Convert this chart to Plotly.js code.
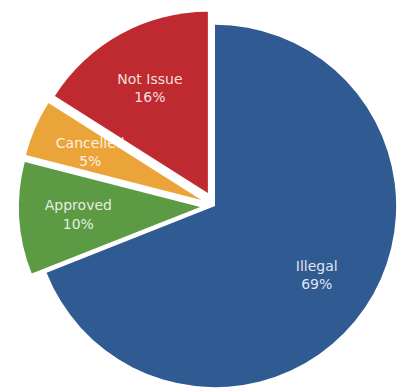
<!DOCTYPE html>
<html>
<head>
<meta charset="utf-8">
<script src="https://cdn.plot.ly/plotly-3.0.1.min.js"></script>
<style>
html, body { margin: 0; padding: 0; background: #ffffff; overflow: hidden; }
#chart { width: 398px; height: 390px; overflow: hidden; }
</style>
</head>
<body>
<div id="chart"></div>
<script>
const categories = ["Illegal", "Approved", "Cancelled", "Not Issue"];
const values = [69, 10, 5, 16];

// styles
const colors = ["#2F5A92", "#5D9A44", "#EAA43A", "#BF2A30"];
const slicePull = [0, 0.082, 0.082, 0.082];
// label layers: which transparent layer carries each slice's label, and its offsets
const labelLayerOf = [1, 1, 2, 1];
const layerPull = { 1: [0.057, 0.051, 0, 0.129], 2: [0, 0, 0, 0] };
const layerHole = { 1: 0.35, 2: 0 };
const layerDomain = { 1: [0.0161, 0.9839], 2: [0.099, 0.901] };

const slices = {
  type: "pie",
  labels: categories,
  values: values,
  sort: false,
  direction: "clockwise",
  rotation: 0,
  pull: slicePull,
  marker: { colors: colors, line: { width: 0 } },
  textinfo: "none",
  hoverinfo: "none",
  showlegend: false
};

const labelTrace = (layer) => ({
  type: "pie",
  labels: categories,
  values: values,
  sort: false,
  direction: "clockwise",
  rotation: 0,
  pull: layerPull[layer],
  hole: layerHole[layer],
  domain: { x: layerDomain[layer], y: layerDomain[layer] },
  marker: { colors: categories.map(() => "rgba(0,0,0,0)"), line: { width: 0 } },
  texttemplate: categories.map((c, i) => labelLayerOf[i] === layer ? "%{label}<br>%{percent}" : ""),
  textposition: "inside",
  insidetextorientation: "horizontal",
  textfont: { family: "'DejaVu Sans', sans-serif", size: 14, color: "rgba(255,255,255,0.86)" },
  hoverinfo: "none",
  showlegend: false
});

const layout = {
  width: 411,
  height: 402,
  margin: { l: 19, r: 0, t: 10, b: 0 },
  paper_bgcolor: "#ffffff",
  plot_bgcolor: "#ffffff",
  showlegend: false,
  uniformtext: { mode: "show", minsize: 14 }
};

Plotly.newPlot("chart", [slices, labelTrace(1), labelTrace(2)], layout, { displayModeBar: false, staticPlot: true });
</script>
</body>
</html>
